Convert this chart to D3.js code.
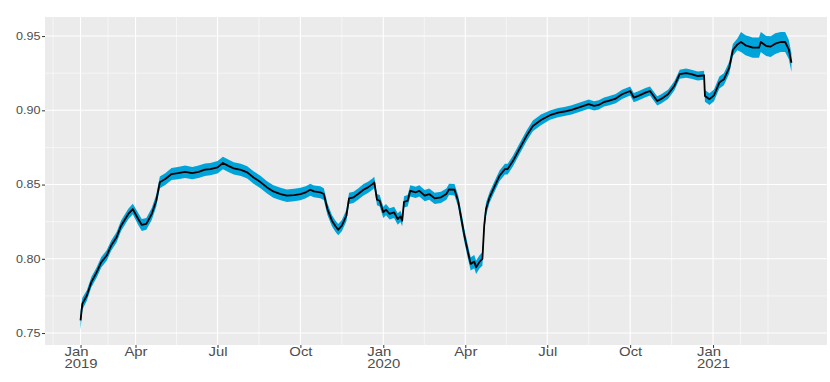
<!DOCTYPE html>
<html>
<head>
<meta charset="utf-8">
<script src="https://cdn.jsdelivr.net/npm/d3@7"></script>
<style>
  body { margin: 0; background: #fff; }
  text { font-family: "Liberation Sans", Arial, sans-serif; }
</style>
</head>
<body>
<div id="chart"></div>
<script>
// values
var dates = [
	"2019-01-30","2019-02-01","2019-02-06","2019-02-11","2019-02-17","2019-02-22","2019-02-28","2019-03-05","2019-03-11","2019-03-16",
	"2019-03-24","2019-03-29","2019-04-04","2019-04-08","2019-04-13","2019-04-19","2019-04-24","2019-04-28","2019-05-04","2019-05-11",
	"2019-05-18","2019-05-26","2019-06-03","2019-06-10","2019-06-17","2019-06-23","2019-07-01","2019-07-07","2019-07-13","2019-07-19",
	"2019-07-27","2019-08-03","2019-08-10","2019-08-18","2019-08-25","2019-09-01","2019-09-09","2019-09-16","2019-09-24","2019-10-01",
	"2019-10-07","2019-10-12","2019-10-16","2019-10-23","2019-10-27","2019-10-31","2019-11-05","2019-11-09","2019-11-12","2019-11-16",
	"2019-11-21","2019-11-24","2019-11-29","2019-12-04","2019-12-10","2019-12-15","2019-12-20","2019-12-22","2019-12-25","2019-12-28",
	"2020-01-01","2020-01-04","2020-01-08","2020-01-13","2020-01-17","2020-01-20","2020-01-22","2020-01-24","2020-01-28","2020-01-31",
	"2020-02-06","2020-02-10","2020-02-16","2020-02-21","2020-02-27","2020-03-05","2020-03-11","2020-03-14","2020-03-20","2020-03-24",
	"2020-03-27","2020-03-31","2020-04-04","2020-04-07","2020-04-11","2020-04-13","2020-04-17","2020-04-20","2020-04-22","2020-04-24",
	"2020-04-28","2020-05-03","2020-05-09","2020-05-15","2020-05-18","2020-05-24","2020-05-31","2020-06-08","2020-06-15","2020-06-24",
	"2020-07-04","2020-07-13","2020-07-20","2020-07-28","2020-08-07","2020-08-16","2020-08-22","2020-08-27","2020-09-02","2020-09-07",
	"2020-09-15","2020-09-22","2020-10-01","2020-10-05","2020-10-10","2020-10-18","2020-10-23","2020-10-31","2020-11-04","2020-11-12",
	"2020-11-19","2020-11-25","2020-12-02","2020-12-08","2020-12-15","2020-12-22","2020-12-23","2020-12-28","2021-01-02","2021-01-08",
	"2021-01-13","2021-01-19","2021-01-23","2021-01-28","2021-02-01","2021-02-06","2021-02-14","2021-02-21","2021-02-23","2021-03-01",
	"2021-03-06","2021-03-11","2021-03-17","2021-03-22","2021-03-26","2021-03-29"
];

var estimate = [
	0.7585,0.7697,0.7753,0.7843,0.7910,0.7977,0.8022,0.8089,0.8145,0.8223,
	0.8302,0.8335,0.8268,0.8228,0.8235,0.8302,0.8391,0.8515,0.8537,0.8571,
	0.8577,0.8586,0.8577,0.8586,0.8600,0.8604,0.8616,0.8645,0.8626,0.8609,
	0.8599,0.8582,0.8548,0.8515,0.8481,0.8454,0.8436,0.8425,0.8429,0.8436,
	0.8448,0.8465,0.8454,0.8448,0.8436,0.8335,0.8257,0.8219,0.8196,0.8223,
	0.8290,0.8407,0.8414,0.8436,0.8465,0.8481,0.8503,0.8515,0.8398,0.8391,
	0.8313,0.8331,0.8302,0.8313,0.8268,0.8286,0.8257,0.8384,0.8391,0.8458,
	0.8448,0.8458,0.8425,0.8436,0.8407,0.8414,0.8436,0.8468,0.8465,0.8391,
	0.8290,0.8156,0.8044,0.7966,0.7981,0.7943,0.7981,0.7999,0.8223,0.8335,
	0.8414,0.8481,0.8559,0.8604,0.8604,0.8660,0.8739,0.8828,0.8895,0.8935,
	0.8967,0.8985,0.8992,0.9003,0.9023,0.9041,0.9030,0.9036,0.9056,0.9063,
	0.9079,0.9108,0.9130,0.9086,0.9097,0.9119,0.9130,0.9063,0.9075,0.9108,
	0.9164,0.9243,0.9250,0.9243,0.9231,0.9236,0.9097,0.9075,0.9101,0.9187,
	0.9209,0.9288,0.9406,0.9444,0.9460,0.9438,0.9422,0.9422,0.9460,0.9433,
	0.9429,0.9449,0.9460,0.9460,0.9411,0.9320
];

// half width of the blue band around the estimate
var halfWidth = [
	0.0065,0.0040,0.0035,0.0035,0.0035,0.0035,0.0035,0.0035,0.0035,0.0035,
	0.0035,0.0035,0.0040,0.0040,0.0040,0.0040,0.0040,0.0040,0.0040,0.0040,
	0.0042,0.0042,0.0042,0.0042,0.0042,0.0042,0.0042,0.0042,0.0042,0.0042,
	0.0042,0.0042,0.0042,0.0042,0.0042,0.0042,0.0042,0.0042,0.0042,0.0042,
	0.0040,0.0040,0.0040,0.0040,0.0040,0.0040,0.0038,0.0038,0.0038,0.0038,
	0.0038,0.0038,0.0038,0.0038,0.0038,0.0038,0.0038,0.0038,0.0038,0.0038,
	0.0038,0.0038,0.0038,0.0038,0.0038,0.0038,0.0038,0.0038,0.0038,0.0038,
	0.0038,0.0038,0.0038,0.0038,0.0038,0.0038,0.0038,0.0038,0.0038,0.0038,
	0.0045,0.0045,0.0045,0.0045,0.0045,0.0045,0.0045,0.0045,0.0045,0.0045,
	0.0036,0.0036,0.0036,0.0036,0.0036,0.0036,0.0036,0.0036,0.0036,0.0036,
	0.0031,0.0031,0.0031,0.0031,0.0031,0.0031,0.0031,0.0031,0.0031,0.0031,
	0.0031,0.0031,0.0031,0.0031,0.0031,0.0031,0.0031,0.0031,0.0031,0.0031,
	0.0031,0.0031,0.0031,0.0031,0.0031,0.0031,0.0040,0.0040,0.0040,0.0040,
	0.0040,0.0040,0.0040,0.0040,0.0068,0.0068,0.0068,0.0068,0.0068,0.0068,
	0.0070,0.0070,0.0068,0.0068,0.0065,0.0062
];

var xTickDates = ["2019-01-30","2019-04-01","2019-07-01","2019-10-01","2020-01-01","2020-04-01","2020-07-01","2020-10-01","2021-01-01"];
var xTickLabels = [["Jan","2019"],["Apr"],["Jul"],["Oct"],["Jan","2020"],["Apr"],["Jul"],["Oct"],["Jan","2021"]];
var yTicks = [0.75, 0.80, 0.85, 0.90, 0.95];

var svgWidth = 830;
var svgHeight = 382;

var margin = {
	top: 17,
	right: 3,
	bottom: 37,
	left: 45
};

var width = svgWidth - margin.left - margin.right;
var height = svgHeight - margin.top - margin.bottom;

var svg = d3.select("#chart")
	.append("svg")
	.attr("width", svgWidth)
	.attr("height", svgHeight);

var chartGroup = svg.append("g")
	.attr("transform", `translate(${margin.left}, ${margin.top})`);

var parseDate = d3.timeParse("%Y-%m-%d");

var data = dates.map(function(d, i) {
	return {
		date: parseDate(d),
		est: estimate[i],
		lo: estimate[i] - halfWidth[i],
		hi: estimate[i] + halfWidth[i]
	};
});

// ggplot style 5% expansion on both scales
var xExt = d3.extent(data, d => d.date);
var xSpan = xExt[1] - xExt[0];
var xScale = d3.scaleTime()
	.domain([new Date(+xExt[0] - 0.05 * xSpan), new Date(+xExt[1] + 0.05 * xSpan)])
	.range([0, width]);

var yMin = d3.min(data, d => d.lo);
var yMax = d3.max(data, d => d.hi);
var ySpan = yMax - yMin;
var yScale = d3.scaleLinear()
	.domain([yMin - 0.05 * ySpan, yMax + 0.05 * ySpan])
	.range([height, 0]);

// panel background
chartGroup.append("rect")
	.attr("width", width)
	.attr("height", height)
	.attr("fill", "#ebebeb");

// grid lines
var xMajor = xTickDates.map(parseDate);
var step = (xMajor[1] - xMajor[0]);
var xMinor = [new Date(+xMajor[0] - step / 2)];
for (var i = 0; i < xMajor.length - 1; i++) {
	xMinor.push(new Date((+xMajor[i] + +xMajor[i + 1]) / 2));
}
xMinor.push(new Date(+xMajor[xMajor.length - 1] + step / 2));
xMinor.push(new Date(+xMajor[xMajor.length - 1] + step));
xMinor = xMinor.filter(d => xScale(d) >= 0 && xScale(d) <= width);

var yStep = yTicks[1] - yTicks[0];
var yMinor = [yTicks[0] - yStep / 2];
yTicks.forEach(t => yMinor.push(t + yStep / 2));
yMinor = yMinor.filter(v => yScale(v) >= 0 && yScale(v) <= height);

var grid = chartGroup.append("g").attr("stroke", "#fff").attr("fill", "none");

grid.selectAll(".yminor").data(yMinor).enter().append("line")
	.attr("x1", 0).attr("x2", width)
	.attr("y1", d => yScale(d)).attr("y2", d => yScale(d))
	.attr("stroke-width", 0.55);

grid.selectAll(".xminor").data(xMinor).enter().append("line")
	.attr("y1", 0).attr("y2", height)
	.attr("x1", d => xScale(d)).attr("x2", d => xScale(d))
	.attr("stroke-width", 0.55);

grid.selectAll(".ymajor").data(yTicks).enter().append("line")
	.attr("x1", 0).attr("x2", width)
	.attr("y1", d => yScale(d)).attr("y2", d => yScale(d))
	.attr("stroke-width", 1.1);

grid.selectAll(".xmajor").data(xMajor).enter().append("line")
	.attr("y1", 0).attr("y2", height)
	.attr("x1", d => xScale(d)).attr("x2", d => xScale(d))
	.attr("stroke-width", 1.1);

// confidence band
var band = d3.area()
	.x(d => xScale(d.date))
	.y0(d => yScale(d.lo))
	.y1(d => yScale(d.hi));

chartGroup.append("path")
	.datum(data)
	.attr("d", band)
	.attr("fill", "#00a4da");

// estimate line
var line = d3.line()
	.x(d => xScale(d.date))
	.y(d => yScale(d.est));

chartGroup.append("path")
	.datum(data)
	.attr("d", line)
	.attr("fill", "none")
	.attr("stroke", "#000")
	.attr("stroke-width", 1.8)
	.attr("stroke-linejoin", "round");

// y axis
var leftAxis = d3.axisLeft(yScale)
	.tickValues(yTicks)
	.tickFormat(d3.format(".2f"))
	.tickSize(3)
	.tickPadding(4);

var yAxisG = chartGroup.append("g").call(leftAxis);
yAxisG.select(".domain").remove();
yAxisG.selectAll("line").attr("stroke", "#333");
yAxisG.selectAll("text")
	.attr("fill", "#4d4d4d")
	.attr("font-size", "10.4px")
	.attr("x", -4.5 / 1.21)
	.attr("transform", "scale(1.21,1)");

// x axis
var bottomAxis = d3.axisBottom(xScale)
	.tickValues(xMajor)
	.tickFormat("")
	.tickSize(3);

var xAxisG = chartGroup.append("g")
	.attr("transform", `translate(0, ${height})`)
	.call(bottomAxis);
xAxisG.select(".domain").remove();
xAxisG.selectAll("line").attr("stroke", "#333");
xAxisG.selectAll(".tick text").remove();

xAxisG.selectAll(".tick").each(function(d, i) {
	var t = d3.select(this).append("text")
		.attr("fill", "#4d4d4d")
		.attr("font-size", "12.4px")
		.attr("text-anchor", "start")
		.attr("transform", "scale(1.2,1)");
	var spans = xTickLabels[i].map(function(s, k) {
		return t.append("tspan").attr("x", 0).attr("y", 11 + k * 12).text(s);
	});
	var w = d3.max(spans, s => s.node().getComputedTextLength());
	spans.forEach(s => s.attr("x", -w / 2));
});
</script>
</body>
</html>
